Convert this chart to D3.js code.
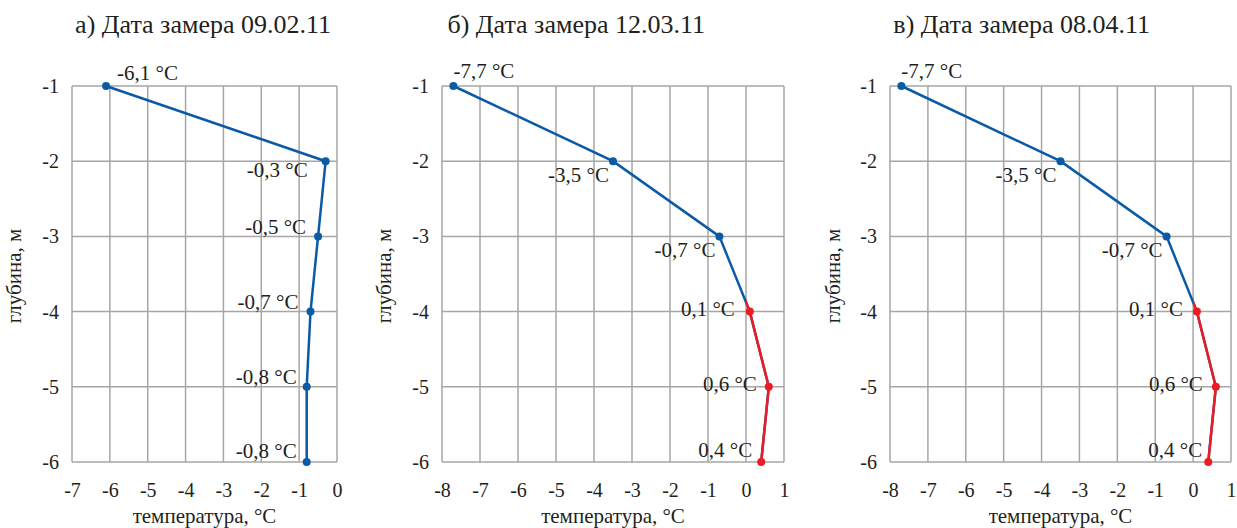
<!DOCTYPE html>
<html>
<head>
<meta charset="utf-8">
<script src="https://cdn.jsdelivr.net/npm/d3@7"></script>
<style>
  body { margin: 0; background: #fff; }
</style>
</head>
<body>
<div id="chart"></div>
<script>
// data
const depths = [-1, -2, -3, -4, -5, -6];
const tempsA = [-6.1, -0.3, -0.5, -0.7, -0.8, -0.8];
const tempsB = [-7.7, -3.5, -0.7, 0.1, 0.6, 0.4];
const tempsC = [-7.7, -3.5, -0.7, 0.1, 0.6, 0.4];
const titles = ["а) Дата замера 09.02.11", "б) Дата замера 12.03.11", "в) Дата замера 08.04.11"];
const xTicksA = [-7, -6, -5, -4, -3, -2, -1, 0];
const xTicksBC = [-8, -7, -6, -5, -4, -3, -2, -1, 0, 1];
const yTicks = [-1, -2, -3, -4, -5, -6];
const xTitle = "температура, °С";
const yTitle = "глубина, м";

// layout
const W = 1237, H = 528;
const plotTop = 86, plotBottom = 462;
const font = "Liberation Serif";
const panels = [
  { temps: tempsA, ticks: xTicksA, left: 72, right: 337, titleEnd: 331, yTitleX: 15,
    labels: [["start", 11, -6], ["end", -18, 16], ["end", -12, -2], ["end", -12, -3], ["end", -10, -3], ["end", -10, -4]] },
  { temps: tempsB, ticks: xTicksBC, left: 442, right: 784, titleEnd: 705, yTitleX: 385,
    labels: [["start", 0, -8], ["end", -4, 21], ["end", -4, 21], ["end", -15, 4], ["end", -12, 4], ["end", -9, -5]] },
  { temps: tempsC, ticks: xTicksBC, left: 890, right: 1231, titleEnd: 1150, yTitleX: 834,
    labels: [["start", 0, -8], ["end", -4, 21], ["end", -4, 21], ["end", -14, 4], ["end", -13, 4], ["end", -6, -5]] }
];
const blue = "#0b5aa6", red = "#ec1c24", grid = "#a6a6a6", ink = "#231f20";

const svg = d3.select("#chart").append("svg")
  .attr("width", W).attr("height", H)
  .attr("viewBox", [0, 0, W, H])
  .attr("font-family", font);

panels.forEach((p, i) => {
  const g = svg.append("g");
  const x = d3.scaleLinear().domain(d3.extent(p.ticks)).range([p.left, p.right]);
  const y = d3.scaleLinear().domain([-1, -6]).range([plotTop, plotBottom]);
  const pts = depths.map((d, k) => ({ d, t: p.temps[k] }));

  // grid
  g.append("g").selectAll("line").data(p.ticks).join("line")
    .attr("x1", d => x(d)).attr("x2", d => x(d))
    .attr("y1", plotTop).attr("y2", plotBottom)
    .attr("stroke", grid).attr("stroke-width", 1.5);
  g.append("g").selectAll("line").data(yTicks).join("line")
    .attr("x1", p.left).attr("x2", p.right)
    .attr("y1", d => y(d)).attr("y2", d => y(d))
    .attr("stroke", grid).attr("stroke-width", 1.5);

  // axes
  const ax = g.append("g").attr("transform", `translate(0,${plotBottom + 18})`)
    .call(d3.axisBottom(x).tickValues(p.ticks).tickSize(0).tickFormat(d => String(d)));
  const ay = g.append("g").attr("transform", `translate(${p.left - 10},0)`)
    .call(d3.axisLeft(y).tickValues(yTicks).tickSize(0).tickFormat(d => String(d)));
  [ax, ay].forEach(a => {
    a.attr("font-family", font).attr("font-size", 20);
    a.select(".domain").remove();
    a.selectAll("text").attr("font-family", font).attr("fill", ink);
  });

  // titles
  g.append("text").attr("x", p.titleEnd).attr("y", 33)
    .attr("text-anchor", "end").attr("font-family", font)
    .attr("font-size", 26).attr("fill", ink).text(titles[i]);
  g.append("text").attr("x", (p.left + p.right) / 2).attr("y", 523)
    .attr("text-anchor", "middle").attr("font-family", font)
    .attr("font-size", 21).attr("fill", ink).text(xTitle);
  g.append("text").attr("transform", `translate(${p.yTitleX},276) rotate(-90)`)
    .attr("text-anchor", "middle").attr("dy", "0.3em").attr("font-family", font)
    .attr("font-size", 21).attr("fill", ink).text(yTitle);

  // lines
  const line = d3.line().x(d => x(d.t)).y(d => y(d.d));
  g.append("path").datum(pts).attr("d", line)
    .attr("fill", "none").attr("stroke", blue).attr("stroke-width", 2.5);

  // part above zero drawn red
  const firstPos = pts.findIndex(d => d.t >= 0);
  if (firstPos > 0) {
    const clipId = "clip" + i;
    g.append("clipPath").attr("id", clipId).append("rect")
      .attr("x", x(0)).attr("y", plotTop - 10)
      .attr("width", p.right - x(0) + 10).attr("height", plotBottom - plotTop + 20);
    g.append("path").datum(pts.slice(firstPos - 1)).attr("d", line)
      .attr("clip-path", `url(#${clipId})`)
      .attr("fill", "none").attr("stroke", red).attr("stroke-width", 2.5);
  }

  g.append("g").selectAll("circle").data(pts).join("circle")
    .attr("cx", d => x(d.t)).attr("cy", d => y(d.d)).attr("r", 4)
    .attr("fill", d => d.t >= 0 ? red : blue);

  // data labels
  g.append("g").selectAll("text").data(pts).join("text")
    .attr("x", (d, k) => x(d.t) + p.labels[k][1])
    .attr("y", (d, k) => y(d.d) + p.labels[k][2])
    .attr("text-anchor", (d, k) => p.labels[k][0])
    .attr("font-family", font)
    .attr("font-size", 21).attr("fill", ink)
    .text(d => String(d.t).replace(".", ",") + " °C");
});
</script>
</body>
</html>
